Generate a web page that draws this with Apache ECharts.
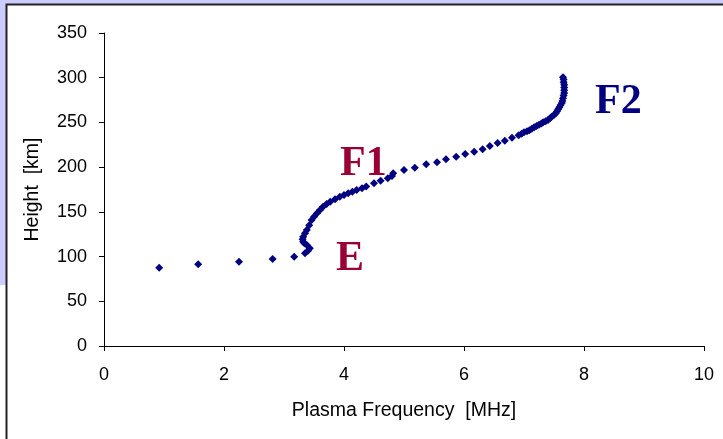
<!DOCTYPE html>
<html>
<head>
<meta charset="utf-8">
<script src="https://cdn.jsdelivr.net/npm/echarts@6/dist/echarts.min.js"></script>
<style>
  html, body { margin: 0; padding: 0; background: #fff; }
  #main { width: 723px; height: 439px; }
</style>
</head>
<body>
<div id="main"></div>
<script>
// 电子密度剖面 - 等离子体频率 vs 高度
// [频率 MHz, 高度 km]
var profile = [
  [0.92, 87.5], [1.57, 91.4], [2.25, 94.3], [2.81, 97.3], [3.17, 99.9],
  [3.35, 103.7], [3.40, 106.5], [3.43, 109.2], [3.38, 112.9], [3.34, 114.8],
  [3.32, 116.6], [3.31, 119.5], [3.32, 122.2], [3.35, 126.0], [3.38, 129.7],
  [3.42, 135.0], [3.46, 140.9], [3.50, 144.5], [3.55, 148.4], [3.60, 152.0],
  [3.65, 155.8], [3.71, 158.8], [3.77, 161.4], [3.85, 164.2], [3.93, 166.9],
  [4.00, 168.8], [4.07, 170.7], [4.14, 172.6], [4.21, 174.4], [4.30, 176.3],
  [4.37, 178.3], [4.50, 181.9], [4.61, 184.8], [4.73, 187.5], [4.80, 190.0],
  [4.82, 193.1], [5.00, 196.8], [5.18, 199.4], [5.37, 203.2], [5.55, 205.4],
  [5.70, 208.8], [5.87, 211.7], [6.02, 214.7], [6.17, 217.3], [6.31, 219.9],
  [6.43, 223.6], [6.56, 227.0], [6.68, 229.6], [6.80, 232.9], [6.91, 235.6],
  [6.96, 237.4], [7.00, 239.0], [7.05, 240.2], [7.09, 241.2], [7.13, 243.0],
  [7.17, 244.6], [7.21, 246.0], [7.25, 247.5], [7.29, 248.8], [7.32, 250.1],
  [7.36, 251.4], [7.40, 252.7], [7.43, 254.5], [7.46, 256.4], [7.50, 258.3],
  [7.53, 260.2], [7.55, 262.5], [7.57, 264.7], [7.59, 267.0], [7.61, 269.5],
  [7.63, 271.8], [7.64, 274.0], [7.65, 277.0], [7.66, 280.0], [7.67, 283.0],
  [7.67, 286.0], [7.67, 289.0], [7.67, 292.0], [7.66, 295.0], [7.66, 298.0],
  [7.65, 300.5]
];

var xTicks = { min: 0, max: 10, interval: 2 };
var yTicks = { min: 0, max: 350, interval: 50 };

var layerLabels = ['E', 'F1', 'F2'];

var myChart = echarts.init(document.getElementById('main'));

var axisCommon = {
  axisLine: { show: true, lineStyle: { color: '#000', width: 1 } },
  axisTick: { show: true, length: 5, lineStyle: { color: '#000' } },
  splitLine: { show: false },
  axisLabel: { color: '#000', fontSize: 18, fontFamily: 'Liberation Sans, Arial' },
  nameTextStyle: { color: '#000', fontSize: 19.5, fontFamily: 'Liberation Sans, Arial' }
};

myChart.setOption({
  backgroundColor: '#fff',
  animation: false,
  grid: { left: 104, top: 33, right: 19, bottom: 93 },
  xAxis: Object.assign({}, axisCommon, {
    type: 'value',
    min: xTicks.min, max: xTicks.max, interval: xTicks.interval,
    name: 'Plasma Frequency  [MHz]',
    nameLocation: 'middle',
    nameGap: 55,
    axisLabel: Object.assign({}, axisCommon.axisLabel, { margin: 20 })
  }),
  yAxis: Object.assign({}, axisCommon, {
    type: 'value',
    min: yTicks.min, max: yTicks.max, interval: yTicks.interval,
    name: 'Height  [km]',
    nameLocation: 'middle',
    nameGap: 61,
    axisLabel: Object.assign({}, axisCommon.axisLabel, { margin: 17 })
  }),
  series: [{
    type: 'scatter',
    data: profile,
    symbol: 'diamond',
    symbolSize: 8,
    itemStyle: { color: '#000080', opacity: 1 }
  }],
  graphic: [
    // 淡紫色边框
    { type: 'rect', shape: { x: 0, y: 0, width: 723, height: 4 }, style: { fill: '#ccccff' }, silent: true },
    { type: 'rect', shape: { x: 0, y: 0, width: 6, height: 285 }, style: { fill: '#ccccff' }, silent: true },
    { type: 'rect', shape: { x: 6.5, y: 4.5, width: 800, height: 500 }, style: { fill: 'none', stroke: '#222', lineWidth: 2 }, silent: true },
    // 层标注
    { type: 'text', left: 336, top: 238, style: { text: layerLabels[0], fill: '#990033', font: 'bold 42px "Liberation Serif"' } },
    { type: 'text', left: 340, top: 143, style: { text: layerLabels[1], fill: '#990033', font: 'bold 42px "Liberation Serif"' } },
    { type: 'text', left: 595, top: 81, style: { text: layerLabels[2], fill: '#000080', font: 'bold 42px "Liberation Serif"' } }
  ]
});
</script>
</body>
</html>
